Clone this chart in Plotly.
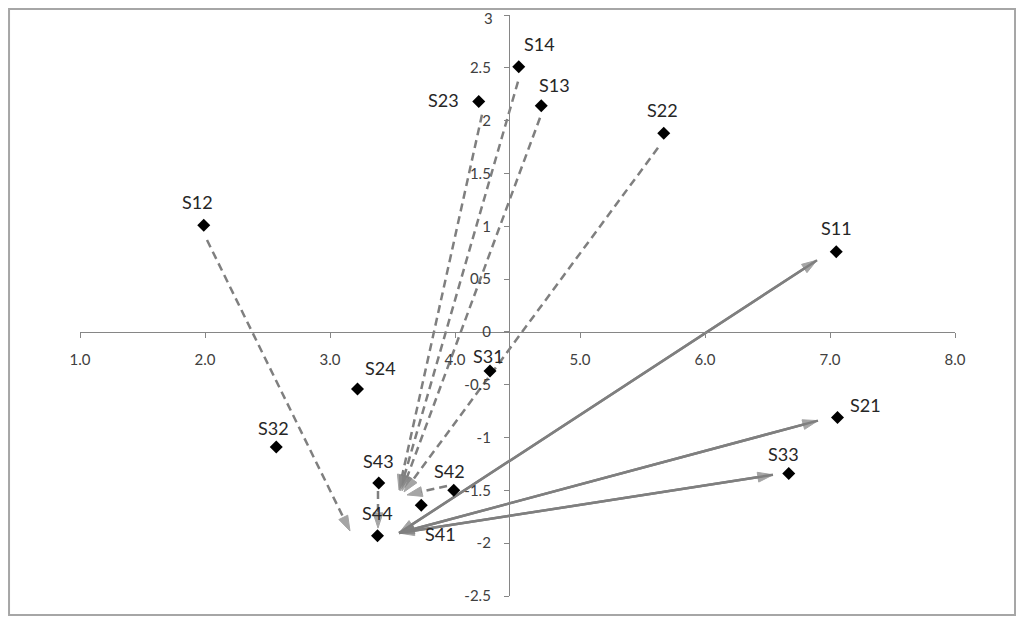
import plotly.graph_objects as go

# ---- data ----
labels = ["S11", "S12", "S13", "S14", "S21", "S22", "S23", "S24",
          "S31", "S32", "S33", "S41", "S42", "S43", "S44"]
xs = [7.05, 1.99, 4.69, 4.51, 7.06, 5.67, 4.19, 3.22,
      4.28, 2.57, 6.67, 3.73, 3.99, 3.39, 3.38]
ys = [0.76, 1.01, 2.14, 2.51, -0.81, 1.88, 2.18, -0.54,
      -0.37, -1.09, -1.34, -1.64, -1.50, -1.43, -1.93]

# dashed single-headed arrows (start -> tip)
dash_x0 = [2.016, 4.216, 4.504, 4.680, 5.624, 3.936, 3.384]
dash_y0 = [0.870, 2.056, 2.370, 2.027, 1.743, -1.458, -1.505]
dash_x1 = [3.160, 3.552, 3.560, 3.576, 3.592, 3.616, 3.384]
dash_y1 = [-1.885, -1.496, -1.505, -1.505, -1.515, -1.543, -1.857]

# solid double-headed arrows
solid_x0 = [3.552, 3.552, 3.552]
solid_y0 = [-1.904, -1.904, -1.904]
solid_x1 = [6.896, 6.904, 6.544]
solid_y1 = [0.679, -0.840, -1.353]

x_tickvals = [1, 2, 3, 4, 5, 6, 7, 8]
x_ticktext = ["1.0", "2.0", "3.0", "4.0", "5.0", "6.0", "7.0", "8.0"]
y_tickvals = [3, 2.5, 2, 1.5, 1, 0.5, 0, -0.5, -1, -1.5, -2, -2.5]
y_ticktext = ["3", "2.5", "2", "1.5", "1", "0.5", "0", "-0.5", "-1", "-1.5", "-2", "-2.5"]

y_axis_cross_x = 4.432   # where the vertical axis crosses the horizontal one

# ---- label offsets in pixels (style) ----
label_offsets = {
    "S11": (0, 24), "S12": (-6, 23), "S13": (13, 21), "S14": (21, 23),
    "S21": (28, 12), "S22": (-1, 23), "S23": (-35, 2), "S24": (23, 21),
    "S31": (-2, 15), "S32": (-3, 19), "S33": (-5, 19), "S41": (19, -29),
    "S42": (-4, 19), "S43": (0, 22), "S44": (0, 23),
}

GREY = "#7f7f7f"
AXIS = "#868686"
FONT = "Lato"
TICKCOL = "#404040"

fig = go.Figure()

arrow_size = 16
arrow_symbol = "arrow"

for a, b, c, d in zip(dash_x0, dash_y0, dash_x1, dash_y1):
    fig.add_trace(go.Scatter(
        x=[a, c], y=[b, d], mode="lines+markers",
        line=dict(color=GREY, width=2.5, dash="8px,5px"),
        marker=dict(symbol=arrow_symbol, size=[0, arrow_size], color=GREY,
                    angleref="previous", line=dict(width=1, color=GREY)),
        hoverinfo="skip", showlegend=False))

for a, b, c, d in zip(solid_x0, solid_y0, solid_x1, solid_y1):
    fig.add_trace(go.Scatter(
        x=[c, a, c], y=[d, b, d], mode="lines+markers",
        line=dict(color=GREY, width=2.5),
        marker=dict(symbol=arrow_symbol, size=[0, arrow_size, arrow_size], color=GREY,
                    angleref="previous", line=dict(width=1, color=GREY)),
        hoverinfo="skip", showlegend=False))

fig.add_trace(go.Scatter(
    x=xs, y=ys, mode="markers",
    marker=dict(symbol="diamond", size=10, color="black"),
    hoverinfo="skip", showlegend=False))

for lab, x, y in zip(labels, xs, ys):
    dx, dy = label_offsets[lab]
    fig.add_annotation(x=x, y=y, text=lab, showarrow=False,
                       xshift=dx, yshift=dy,
                       font=dict(family=FONT, size=18, color="#262626"))

# the top tick label sits at the very top edge; draw it slightly lower so it is not clipped
y_ticktext_axis = [""] + y_ticktext[1:]
fig.add_annotation(x=y_axis_cross_x, y=y_tickvals[0], text=y_ticktext[0],
                   showarrow=False, xanchor="right", yanchor="middle",
                   xshift=-14, yshift=-3,
                   font=dict(family=FONT, size=15, color=TICKCOL))

# chart border
fig.add_shape(type="rect", xref="paper", yref="paper",
              x0=-0.0811, x1=1.0686, y0=-0.0327, y1=1.0103,
              line=dict(color="#a6a6a6", width=2), fillcolor="rgba(0,0,0,0)",
              layer="below")

# the page body has an 8px margin, so the figure is sized to fit the window
fig.update_layout(
    width=1016, height=608,
    margin=dict(l=72, r=69, t=7, b=20, autoexpand=False),
    paper_bgcolor="white", plot_bgcolor="white",
    font=dict(family=FONT),
    xaxis=dict(range=[1, 8], tickvals=x_tickvals, ticktext=x_ticktext,
               showgrid=False, zeroline=False, showline=True,
               linecolor=AXIS, linewidth=1.3, automargin=False,
               ticks="outside", ticklen=5, tickcolor=AXIS, tickwidth=1,
               anchor="free", position=2.5 / 5.5, ticklabelstandoff=9,
               ticklabeloverflow="allow",
               tickfont=dict(family=FONT, size=15, color=TICKCOL)),
    yaxis=dict(range=[-2.5, 3], tickvals=y_tickvals, ticktext=y_ticktext_axis,
               showgrid=False, zeroline=False, showline=True,
               linecolor=AXIS, linewidth=1.3, automargin=False,
               ticks="outside", ticklen=5, tickcolor=AXIS, tickwidth=1,
               anchor="free", position=(y_axis_cross_x - 1) / 7,
               ticklabelstandoff=10, ticklabeloverflow="allow",
               tickfont=dict(family=FONT, size=15, color=TICKCOL)),
)

fig.write_html("out.html")
